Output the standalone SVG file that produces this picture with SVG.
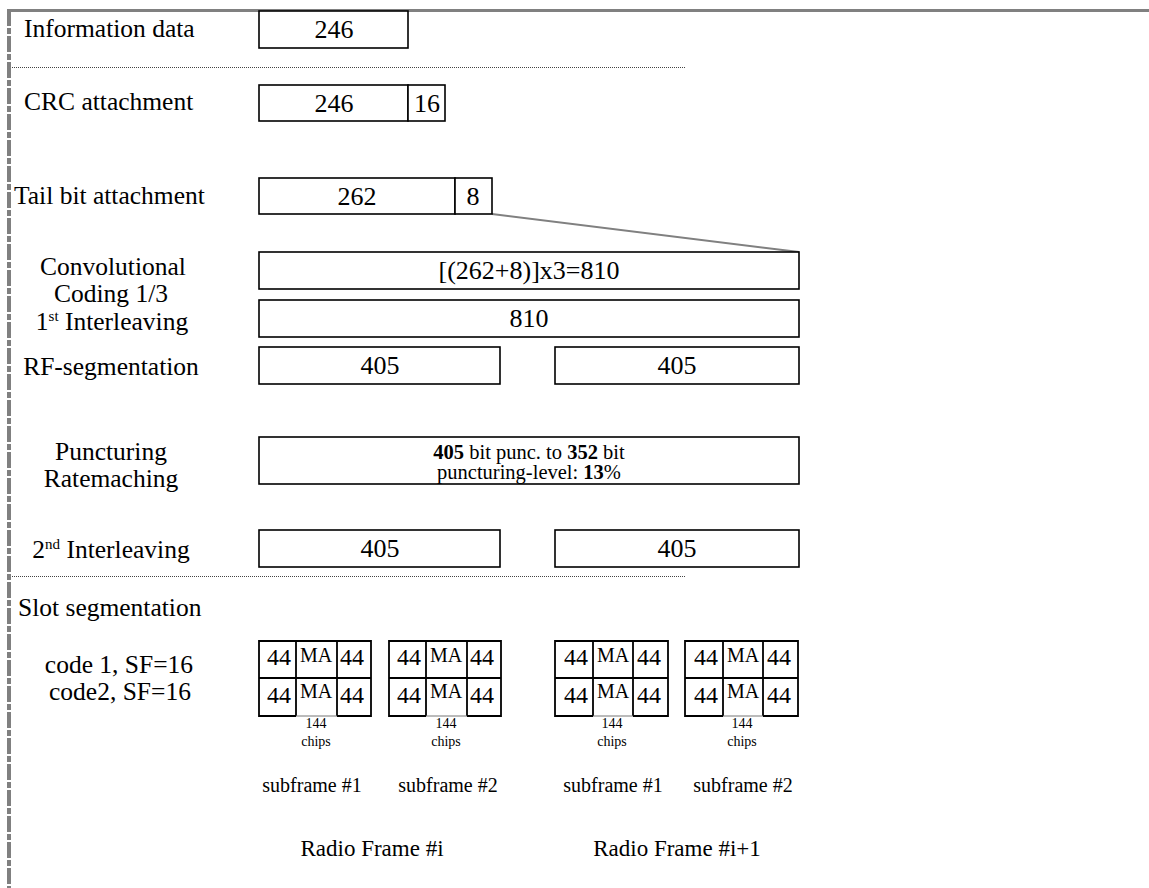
<svg xmlns="http://www.w3.org/2000/svg" width="1149" height="888" viewBox="0 0 1149 888">
<style>
text{font-family:"Liberation Serif","Times New Roman",serif;fill:#000}
.lbl{font-size:25.5px}
.num{font-size:26px;text-anchor:middle}
.c{text-anchor:middle}
.box{fill:#fff;stroke:#000;stroke-width:1.6}
.cell{fill:none;stroke:#000;stroke-width:1.8}
.thin{stroke:#777;stroke-width:1}
.big{font-size:24px;text-anchor:middle}
.ma{font-size:20px;text-anchor:middle}
.sm{font-size:14px;text-anchor:middle}
.sf{font-size:20px;text-anchor:middle}
.rf{font-size:23px;text-anchor:middle}
.pn{font-size:20.5px;text-anchor:middle}
.dot{stroke:#444;stroke-width:1;stroke-dasharray:1 1;fill:none}
</style>
<rect width="1149" height="888" fill="#fff"/>
<g id="frame">
<line x1="7" y1="10.5" x2="1149" y2="10.5" stroke="#808080" stroke-width="3"/>
<line x1="9" y1="10" x2="9" y2="888" stroke="#808080" stroke-width="4" stroke-dasharray="16 2 6 2"/>
<line class="dot" x1="12" y1="67.5" x2="685" y2="67.5"/>
<line class="dot" x1="12" y1="576.5" x2="685" y2="576.5"/>
</g>
<g id="labels">
<text class="lbl" x="24" y="37">Information data</text>
<text class="lbl" x="24" y="110">CRC attachment</text>
<text class="lbl" x="14" y="204">Tail bit attachment</text>
<text class="lbl c" x="113" y="275">Convolutional</text>
<text class="lbl c" x="111" y="302">Coding 1/3</text>
<text class="lbl c" x="112" y="330">1<tspan font-size="15" dy="-9">st</tspan><tspan dy="9"> Interleaving</tspan></text>
<text class="lbl c" x="111" y="375">RF-segmentation</text>
<text class="lbl c" x="111" y="460">Puncturing</text>
<text class="lbl c" x="111" y="487">Ratemaching</text>
<text class="lbl c" x="111" y="558">2<tspan font-size="15" dy="-9">nd</tspan><tspan dy="9"> Interleaving</tspan></text>
<text class="lbl" x="18" y="616">Slot segmentation</text>
<text class="lbl c" x="119" y="673">code 1, SF=16</text>
<text class="lbl c" x="120" y="700">code2, SF=16</text>
</g>
<g id="connectors">
<line x1="492" y1="214" x2="799" y2="252" stroke="#808080" stroke-width="2"/>
</g>
<g id="info">
<rect class="box" x="259" y="11" width="149" height="37"/>
<text class="num" x="334" y="38">246</text>
</g>
<g id="crc">
<rect class="box" x="259" y="85" width="149" height="36"/>
<rect class="box" x="408" y="85" width="37" height="36"/>
<text class="num" x="334" y="112">246</text>
<text class="num" x="427" y="112">16</text>
</g>
<g id="tail">
<rect class="box" x="259" y="178" width="196" height="36"/>
<rect class="box" x="455" y="178" width="37" height="36"/>
<text class="num" x="357" y="205">262</text>
<text class="num" x="473" y="205">8</text>
</g>
<g id="conv">
<rect class="box" x="259" y="252" width="540" height="37"/>
<text class="num" x="529" y="279">[(262+8)]x3=810</text>
</g>
<g id="il1">
<rect class="box" x="259" y="300" width="540" height="37"/>
<text class="num" x="529" y="327">810</text>
</g>
<g id="rfseg">
<rect class="box" x="259" y="347" width="241" height="37"/>
<rect class="box" x="555" y="347" width="244" height="37"/>
<text class="num" x="380" y="374">405</text>
<text class="num" x="677" y="374">405</text>
</g>
<g id="punct">
<rect class="box" x="259" y="437" width="540" height="47"/>
<text class="pn" x="529" y="459"><tspan font-weight="bold">405</tspan> bit punc. to <tspan font-weight="bold">352</tspan> bit</text>
<text class="pn" x="529" y="479">puncturing-level: <tspan font-weight="bold">13</tspan>%</text>
</g>
<g id="il2">
<rect class="box" x="259" y="530" width="241" height="37"/>
<rect class="box" x="555" y="530" width="244" height="37"/>
<text class="num" x="380" y="557">405</text>
<text class="num" x="677" y="557">405</text>
</g>
<g id="slot1">
<path class="cell" d="M296,716 H259 V641 H371 V716 H337 M259,678 H371 M296,641 V716 M337,641 V716"/>
<line class="thin" x1="296" y1="716" x2="337" y2="716"/>
<text class="big" x="279" y="665">44</text><text class="ma" x="316" y="662">MA</text><text class="big" x="352" y="665">44</text>
<text class="big" x="279" y="703">44</text><text class="ma" x="316" y="698">MA</text><text class="big" x="352" y="703">44</text>
<text class="sm" x="316" y="728">144</text><text class="sm" x="316" y="746">chips</text>
</g>
<g id="slot2">
<path class="cell" d="M426,716 H389 V641 H501 V716 H467 M389,678 H501 M426,641 V716 M467,641 V716"/>
<line class="thin" x1="426" y1="716" x2="467" y2="716"/>
<text class="big" x="409" y="665">44</text><text class="ma" x="446" y="662">MA</text><text class="big" x="482" y="665">44</text>
<text class="big" x="409" y="703">44</text><text class="ma" x="446" y="698">MA</text><text class="big" x="482" y="703">44</text>
<text class="sm" x="446" y="728">144</text><text class="sm" x="446" y="746">chips</text>
</g>
<g id="slot3">
<path class="cell" d="M593,716 H555 V641 H668 V716 H633 M555,678 H668 M593,641 V716 M633,641 V716"/>
<line class="thin" x1="593" y1="716" x2="633" y2="716"/>
<text class="big" x="576" y="665">44</text><text class="ma" x="613" y="662">MA</text><text class="big" x="649" y="665">44</text>
<text class="big" x="576" y="703">44</text><text class="ma" x="613" y="698">MA</text><text class="big" x="649" y="703">44</text>
<text class="sm" x="612" y="728">144</text><text class="sm" x="612" y="746">chips</text>
</g>
<g id="slot4">
<path class="cell" d="M723,716 H685 V641 H798 V716 H763 M685,678 H798 M723,641 V716 M763,641 V716"/>
<line class="thin" x1="723" y1="716" x2="763" y2="716"/>
<text class="big" x="706" y="665">44</text><text class="ma" x="743" y="662">MA</text><text class="big" x="779" y="665">44</text>
<text class="big" x="706" y="703">44</text><text class="ma" x="743" y="698">MA</text><text class="big" x="779" y="703">44</text>
<text class="sm" x="742" y="728">144</text><text class="sm" x="742" y="746">chips</text>
</g>
<g id="subframes">
<text class="sf" x="312" y="792">subframe #1</text>
<text class="sf" x="448" y="792">subframe #2</text>
<text class="sf" x="613" y="792">subframe #1</text>
<text class="sf" x="743" y="792">subframe #2</text>
<text class="rf" x="372" y="856">Radio Frame #i</text>
<text class="rf" x="677" y="856">Radio Frame #i+1</text>
</g>
</svg>
